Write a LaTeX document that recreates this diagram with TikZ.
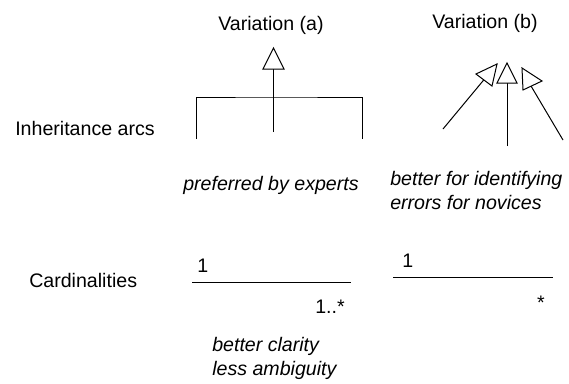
\documentclass[tikz,border=0pt]{standalone}
\usepackage{fontspec}
\setmainfont{Liberation Sans}
\usetikzlibrary{positioning}

\tikzset{
  lbl/.style={inner sep=0pt, anchor=base west, font=\fontsize{14.7}{18}\selectfont},
  note/.style={lbl, font=\fontsize{14.7}{18}\selectfont\itshape, align=left},
  arc/.style={line width=0.75pt},
  head/.style={line width=0.75pt, fill=white},
}

\begin{document}
\begin{tikzpicture}[x=0.75pt,y=-0.75pt]
	\useasboundingbox (0,0) rectangle (569,383);
	
	% row labels
	\node[lbl] (inh) at (15,135) {Inheritance arcs};
	\node[lbl] (card) at (29,287) {Cardinalities};
	
	% column heads
	\node[lbl,anchor=base] (varA) at (271,30) {Variation (a)};
	\node[lbl,anchor=base] (varB) at (485,28) {Variation (b)};
	
	% variation (a)
	\coordinate (tipA) at (273.5,48);
	\coordinate (joinA) at (273.5,97);
	\coordinate (subA1) at (196,139);
	\coordinate (subA2) at (273.5,132);
	\coordinate (subA3) at (362,139);
	\draw[arc] (subA1) |- (joinA) -| (subA3);
	\draw[arc] (subA2) -- (tipA);
	\draw[head] (tipA) -- ++(-10.5,21) -- ++(21,0) -- cycle;
	
	\node[note] (prefA) at (183,190) {preferred by experts};
	
	% variation (b)
	\coordinate (tipB1) at (497,64);
	\coordinate (subB1) at (443,129);
	\coordinate (tipB2) at (507,63);
	\coordinate (subB2) at (507,146);
	\coordinate (endB3) at (531,86);
	\coordinate (subB3) at (563,140);
	\draw[arc] (subB1) -- (tipB1);
	\draw[head] (tipB1) -- (476,74) -- (492,86) -- cycle;
	\draw[arc] (subB2) -- (tipB2);
	\draw[head] (tipB2) -- ++(-10,20) -- ++(20,0) -- cycle;
	\draw[arc] (subB3) -- (endB3);
	\draw[head] (522,68) -- (523,90) -- (542,81) -- cycle;
	
	% base anchor sits on the last line
	\node[note] (idB) at (390,209) {better for identifying\\errors for novices};
	
	% cardinalities
	\coordinate (lA1) at (192,282);
	\coordinate (lA2) at (351,282);
	\draw[arc] (lA1) -- (lA2);
	\node[lbl] (oneA) at (197,272) {1};
	\node[lbl,anchor=base east] (manyA) at (345,313) {1..*};
	
	\coordinate (lB1) at (393,277);
	\coordinate (lB2) at (553,277);
	\draw[arc] (lB1) -- (lB2);
	\node[lbl] (oneB) at (402,267) {1};
	\node[lbl,anchor=base] (manyB) at (541,309) {*};
	
	\node[note] (clarA) at (212,375) {better clarity\\less ambiguity};
\end{tikzpicture}
\end{document}
